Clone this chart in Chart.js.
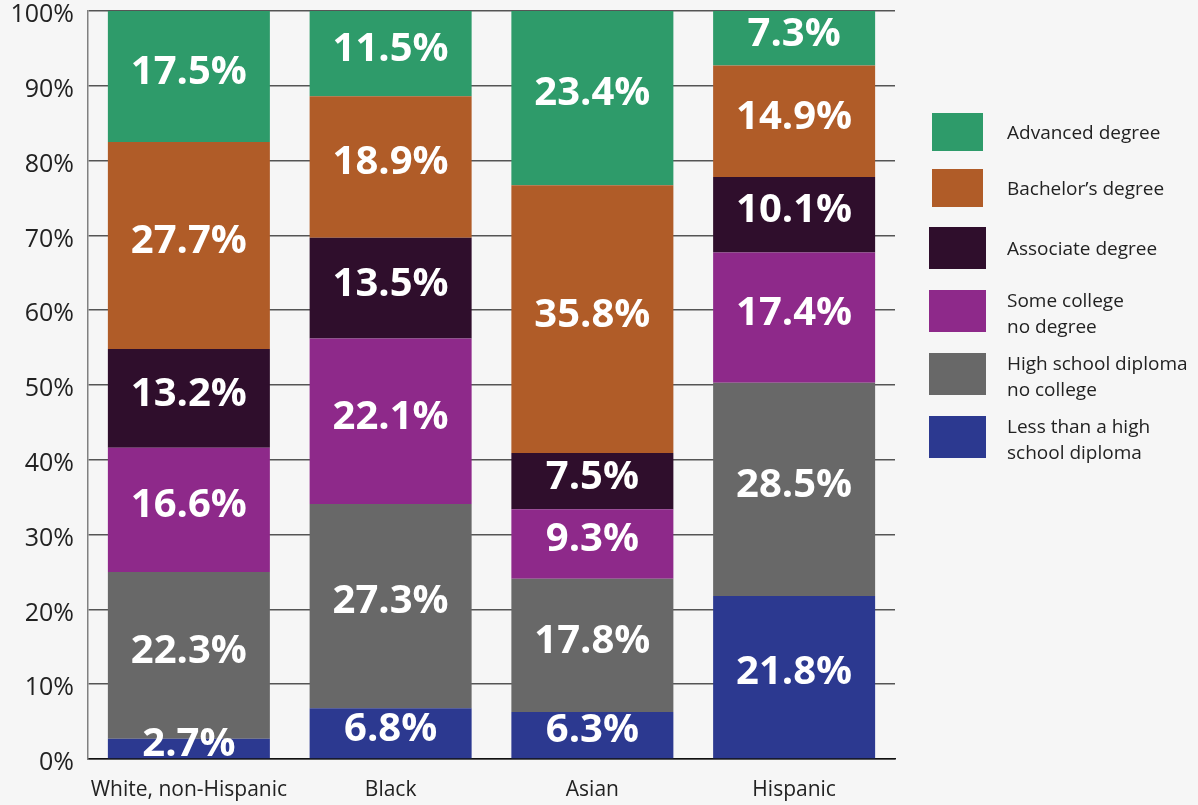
<!DOCTYPE html>
<html>
<head>
<meta charset="utf-8">
<script src="https://cdn.jsdelivr.net/npm/chart.js@4/dist/chart.umd.min.js"></script>
<style>
  html, body { margin: 0; padding: 0; background: #f6f6f6; }
  #wrap { width: 1198px; height: 805px; }
</style>
</head>
<body>
<div id="wrap"><canvas id="eduChart" width="1198" height="805"></canvas></div>
<script>
const groups = ["White, non-Hispanic", "Black", "Asian", "Hispanic"];

// stacked bottom to top
const lessThanHS = [2.7, 6.8, 6.3, 21.8];
const highSchool = [22.3, 27.3, 17.8, 28.5];
const someCollege = [16.6, 22.1, 9.3, 17.4];
const associate = [13.2, 13.5, 7.5, 10.1];
const bachelor = [27.7, 18.9, 35.8, 14.9];
const advanced = [17.5, 11.5, 23.4, 7.3];

const yTicks = [0, 10, 20, 30, 40, 50, 60, 70, 80, 90, 100];

const series = [
  { label: "Less than a high\nschool diploma", data: lessThanHS, color: "#2c3990" },
  { label: "High school diploma\nno college", data: highSchool, color: "#686868" },
  { label: "Some college\nno degree", data: someCollege, color: "#8e298a" },
  { label: "Associate degree", data: associate, color: "#2f0e2c" },
  { label: "Bachelor\u2019s degree", data: bachelor, color: "#b05c28" },
  { label: "Advanced degree", data: advanced, color: "#2e9b6a" },
];

const FONT = "'Open Sans', sans-serif";

// legend boxes, top entry first: [x, y, w, h]
const legendBoxes = [
  [932, 113, 51, 38],
  [932, 169, 51, 38],
  [929, 227, 57, 42],
  [929, 290, 57, 42],
  [929, 353, 57, 42],
  [929, 416, 57, 42],
];

// white value labels centred in each segment, clipped to the plot
const segmentLabels = {
  id: "segmentLabels",
  afterDatasetsDraw(chart) {
    const { ctx, chartArea } = chart;
    ctx.save();
    ctx.beginPath();
    ctx.rect(chartArea.left, chartArea.top, chartArea.right - chartArea.left, chartArea.bottom - chartArea.top);
    ctx.clip();
    ctx.fillStyle = "#ffffff";
    ctx.font = "bold 40px " + FONT;
    ctx.textAlign = "center";
    ctx.textBaseline = "middle";
    chart.data.datasets.forEach((ds, i) => {
      chart.getDatasetMeta(i).data.forEach((bar, j) => {
        const mid = (bar.y + bar.base) / 2;
        ctx.fillText(ds.data[j].toFixed(1) + "%", bar.x, mid - 4);
      });
    });
    ctx.restore();
  },
};

// legend on the right, top entry = top of stack
const sideLegend = {
  id: "sideLegend",
  afterDraw(chart) {
    const { ctx } = chart;
    const items = chart.data.datasets.slice().reverse();
    ctx.save();
    ctx.font = "19px " + FONT;
    ctx.textBaseline = "middle";
    ctx.textAlign = "left";
    items.forEach((ds, k) => {
      const [bx, by, bw, bh] = legendBoxes[k];
      ctx.fillStyle = ds.backgroundColor;
      ctx.fillRect(bx, by, bw, bh);
      ctx.fillStyle = "#222222";
      const lines = ds.label.split("\n");
      const lh = 26;
      const cy = by + bh / 2 + (lines.length > 1 ? 4 : 2);
      const start = cy - ((lines.length - 1) * lh) / 2;
      lines.forEach((ln, n) => ctx.fillText(ln, 1007, start + n * lh));
    });
    ctx.restore();
  },
};

new Chart(document.getElementById("eduChart").getContext("2d"), {
  type: "bar",
  data: {
    labels: groups,
    datasets: series.map((s) => ({
      label: s.label,
      data: s.data,
      backgroundColor: s.color,
      borderWidth: 0,
      barPercentage: 0.803,
      categoryPercentage: 1,
    })),
  },
  options: {
    responsive: false,
    animation: false,
    layout: { padding: { top: 11, right: 303, bottom: 0, left: 0 } },
    plugins: {
      legend: { display: false },
      tooltip: { enabled: false },
    },
    scales: {
      x: {
        stacked: true,
        grid: { display: false, drawTicks: false },
        border: { display: true, color: "#111111", width: 1.5 },
        ticks: {
          color: "#222222",
          font: { family: FONT, size: 21 },
          padding: 18,
          maxRotation: 0,
          minRotation: 0,
          autoSkip: false,
        },
        afterFit: (scale) => {
          scale.height = 46;
          scale.paddingLeft = 0;
          scale.paddingRight = 0;
        },
      },
      y: {
        stacked: true,
        min: 0,
        max: 100,
        afterBuildTicks: (scale) => { scale.ticks = yTicks.map((v) => ({ value: v })); },
        grid: { color: "#555555", lineWidth: 1.5, drawTicks: false },
        border: { display: true, color: "#808080", width: 1.5 },
        ticks: {
          color: "#222222",
          font: { family: FONT, size: 25, lineHeight: 0.9 },
          padding: 14,
          labelOffset: 4,
          callback: (v) => v + "%",
        },
        afterFit: (scale) => {
          scale.width = 88;
          scale.paddingTop = 0;
          scale.paddingBottom = 0;
        },
      },
    },
  },
  plugins: [segmentLabels, sideLegend],
});
</script>
</body>
</html>
